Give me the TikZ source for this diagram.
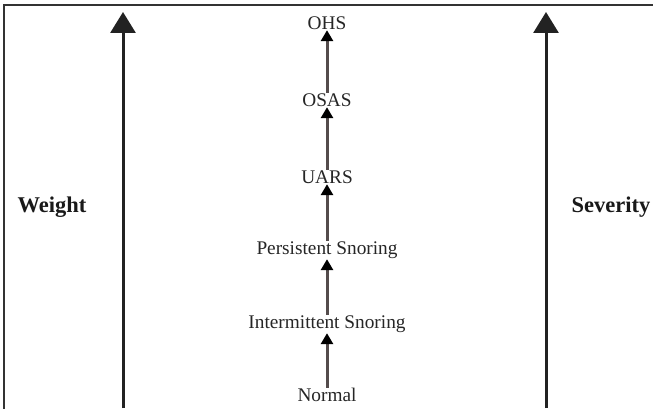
\documentclass[tikz,border=0pt]{standalone}
\usepackage{fontspec}
\setmainfont{Liberation Serif}
\usetikzlibrary{arrows.meta}
\definecolor{bigline}{HTML}{222222}
\definecolor{smallline}{HTML}{544C4C}
\definecolor{frame}{HTML}{333333}
\tikzset{
  stage/.style={inner sep=0.5pt, font=\fontsize{19.3}{22}\selectfont, text=black!85},
  axislabel/.style={inner sep=0pt, font=\fontsize{22.5}{26}\selectfont\bfseries, text=black!90},
  bigarrow/.style={draw=bigline, line width=3pt, -{Triangle[width=25pt,length=21pt]}},
  smallarrow/.style={draw=smallline, line width=3pt, -{Triangle[width=12pt,length=11pt,color=black]}},
}
\begin{document}
\begin{tikzpicture}[x=1pt,y=-1pt]
\useasboundingbox (0,0) rectangle (653,409);
\fill[white] (0,0) rectangle (653,409);
\draw[frame, line width=1.2pt] (4,409) -- (4,5) -- (653,5);

\node[stage] (ohs) at (327,23) {OHS};
\node[stage] (osas) at (327,100) {OSAS};
\node[stage] (uars) at (327,177) {UARS};
\node[stage] (pers) at (327,250) {Persistent Snoring};
\node[stage] (inter) at (327,324) {Intermittent Snoring};
\node[stage] (normal) at (327,395) {Normal};

\draw[smallarrow] (osas) -- (ohs);
\draw[smallarrow] (uars) -- (osas);
\draw[smallarrow] (pers) -- (uars);
\draw[smallarrow] (inter) -- (pers);
\draw[smallarrow] (normal) -- (inter);

\coordinate (wbot) at (123,408);
\coordinate (wtop) at (123,12);
\coordinate (sbot) at (546,408);
\coordinate (stop) at (546,12);
\draw[bigarrow] (wbot) -- (wtop);
\draw[bigarrow] (sbot) -- (stop);

\node[axislabel] (weight) at (52,207) {Weight};
\node[axislabel] (severity) at (611,207) {Severity};
\end{tikzpicture}
\end{document}
